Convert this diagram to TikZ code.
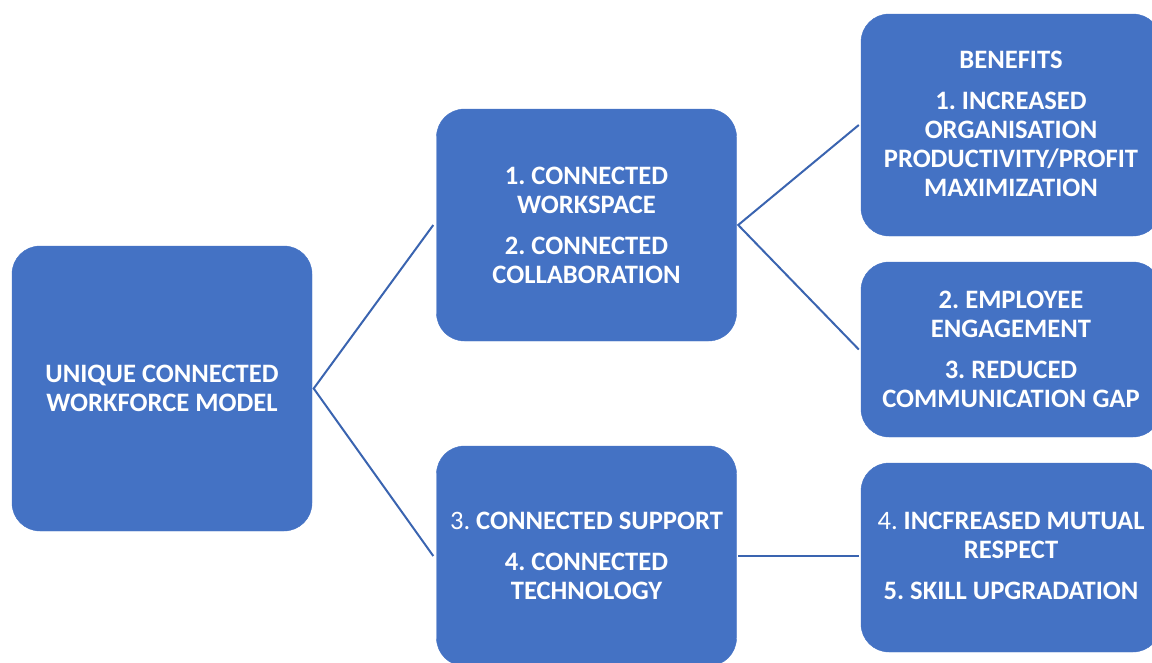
\documentclass[tikz,border=0pt]{standalone}
\usepackage{fontspec}
\setmainfont{Carlito}
\definecolor{boxblue}{HTML}{4472C4}
\definecolor{lineblue}{HTML}{3A64B0}
\frenchspacing
\begin{document}
\begin{tikzpicture}[x=1pt,y=1pt,
  box/.style={fill=boxblue, draw=boxblue, rounded corners=28pt, minimum width=300pt, inner sep=0pt},
  txt/.style={text=white, align=center, font=\fontsize{26.6}{29}\selectfont\bfseries},
  conn/.style={draw=lineblue, line width=2pt}]
\useasboundingbox (0,0) rectangle (1152,-662);
\begin{scope}
\clip (0,0) rectangle (1152,-662);
\node[box, minimum height=285pt] (root) at (162,-388.5) {};
\node[box, minimum height=232pt] (mt) at (586.5,-225) {};
\node[box, minimum height=220pt] (mb) at (586.5,-556) {};
\node[box, minimum height=222pt] (rt) at (1011,-125) {};
\node[box, minimum height=175pt] (rm) at (1011,-349.5) {};
\node[box, minimum height=189pt] (rb) at (1011,-557.5) {};
\end{scope}
\node[txt] (troot) at (root.center) {UNIQUE CONNECTED\\WORKFORCE MODEL};
\node[txt] (tmt) at (mt.center) {1. CONNECTED\\WORKSPACE\\[12pt]2. CONNECTED\\COLLABORATION};
\node[txt] (tmb) at (586.5,-556) {{\mdseries 3.} CONNECTED SUPPORT\\[12pt]4. CONNECTED\\TECHNOLOGY};
\node[txt] (trt) at (1011,-124) {BENEFITS\\[12pt]1. INCREASED\\ORGANISATION\\PRODUCTIVITY/PROFIT\\MAXIMIZATION};
\node[txt] (trm) at (rm.center) {2. EMPLOYEE\\ENGAGEMENT\\[12pt]3. REDUCED\\COMMUNICATION GAP};
\node[txt] (trb) at (1011,-556) {{\mdseries 4.} INCFREASED MUTUAL\\RESPECT\\[12pt]5. SKILL UPGRADATION};
\coordinate (mtw) at ([xshift=-3pt]mt.west);
\coordinate (mbw) at ([xshift=-3pt]mt.west |- mb.center);
\coordinate (rte) at ([xshift=1.5pt]root.east);
\coordinate (mte) at ([xshift=1.5pt]mt.east);
\coordinate (rtw) at ([xshift=-2pt]rt.west);
\coordinate (rmw) at ([xshift=-2pt]rm.west);
\coordinate (mbe) at ([xshift=1.5pt]mt.east |- mb.center);
\coordinate (rbw) at ([xshift=-2pt]rt.west |- mb.center);
\draw[conn] (mtw) -- (rte) -- (mbw);
\draw[conn] (rtw) -- (mte) -- (rmw);
\draw[conn] (mbe) -- (rbw);
\end{tikzpicture}
\end{document}
